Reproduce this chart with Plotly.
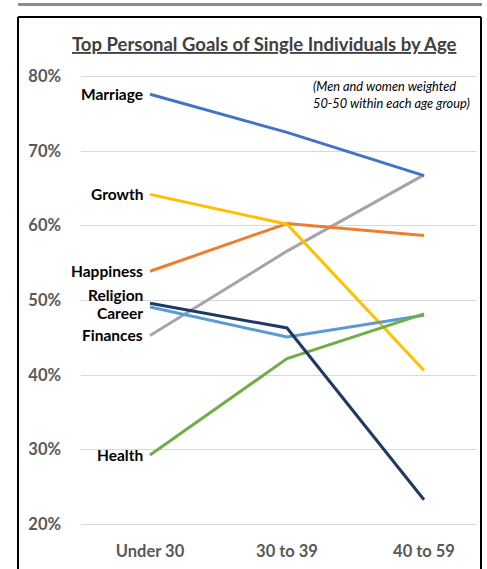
import plotly.graph_objects as go

categories = ["Under 30", "30 to 39", "40 to 59"]
series_names = ["Marriage", "Growth", "Happiness", "Religion", "Career", "Finances", "Health"]
marriage = [77.6, 72.5, 66.7]
growth = [64.2, 60.2, 40.6]
happiness = [53.9, 60.3, 58.7]
religion = [49.6, 46.3, 23.3]
career = [49.1, 45.1, 48.0]
finances = [45.3, 56.6, 66.8]
health = [29.3, 42.2, 48.2]
series_values = [marriage, growth, happiness, religion, career, finances, health]
colors = ["#4472C4", "#FFC000", "#ED7D31", "#1F3864", "#5B9BD5", "#A5A5A5", "#70AD47"]
label_yshift = [0, 0, 0, 8.5, -6, 0, 0]
tick_vals = [20, 30, 40, 50, 60, 70, 80]
tick_text = ["20%", "30%", "40%", "50%", "60%", "70%", "80%"]

W, H = 487, 569
FONT = "Lato"

fig = go.Figure()
order = [5, 2, 1, 4, 6, 3, 0]
for i in order:
    fig.add_trace(go.Scatter(
        x=categories, y=series_values[i], mode="lines", name=series_names[i],
        line=dict(color=colors[i], width=3), showlegend=False, hoverinfo="skip"))

annotations = []
for i, name in enumerate(series_names):
    annotations.append(dict(
        x=categories[0], y=series_values[i][0], xref="x", yref="y",
        text="<b>" + name + "</b>", showarrow=False, xanchor="right", yanchor="middle",
        xshift=-5, yshift=label_yshift[i],
        font=dict(family=FONT, size=15.5, color="#000000")))

annotations.append(dict(
    x=264 / W, y=1 - 41 / H, xref="paper", yref="paper",
    text="<u><b>Top Personal Goals of Single Individuals by Age</b></u>",
    showarrow=False, xanchor="center", yanchor="middle",
    font=dict(family=FONT, size=18.5, color="#404040")))
annotations.append(dict(
    x=311 / W, y=1 - 92 / H, xref="paper", yref="paper",
    text="<i>(Men and women weighted<br>50-50 within each age group)</i>",
    showarrow=False, xanchor="left", yanchor="middle", align="left",
    font=dict(family=FONT, size=12.8, color="#000000")))

shapes = [
    dict(type="rect", xref="paper", yref="paper", x0=18 / W, x1=482 / W,
         y0=1 - 3 / H, y1=1.0, fillcolor="#8c8c8c", line=dict(width=0), layer="below"),
    dict(type="line", xref="paper", yref="paper", x0=18 / W, x1=481 / W,
         y0=1 - 14 / H, y1=1 - 14 / H, line=dict(color="#000000", width=2)),
    dict(type="line", xref="paper", yref="paper", x0=18 / W, x1=18 / W,
         y0=-0.01, y1=1 - 14 / H, line=dict(color="#000000", width=2)),
    dict(type="line", xref="paper", yref="paper", x0=481 / W, x1=481 / W,
         y0=-0.01, y1=1 - 14 / H, line=dict(color="#000000", width=2)),
]

fig.update_layout(
    width=W, height=H, margin=dict(l=0, r=0, t=0, b=0),
    paper_bgcolor="white", plot_bgcolor="white",
    annotations=annotations, shapes=shapes,
    xaxis=dict(domain=[81 / W, 477 / W], range=[-0.504, 2.387], showgrid=False,
               zeroline=False, showline=False, ticks="", type="category",
               tickvals=categories, ticktext=["<b>" + c + "</b>" for c in categories],
               tickfont=dict(family=FONT, size=16.5, color="#595959"),
               ticklabelstandoff=8),
    yaxis=dict(domain=[(H - 533.5) / H, (H - 66.5) / H], range=[19, 81],
               tickvals=tick_vals, ticktext=["<b>" + t + "</b>" for t in tick_text],
               showgrid=True, gridcolor="#D9D9D9", gridwidth=1, zeroline=False,
               showline=False, ticks="", ticklabelstandoff=19,
               tickfont=dict(family=FONT, size=16.5, color="#595959")),
)

fig.write_html("out.html")
